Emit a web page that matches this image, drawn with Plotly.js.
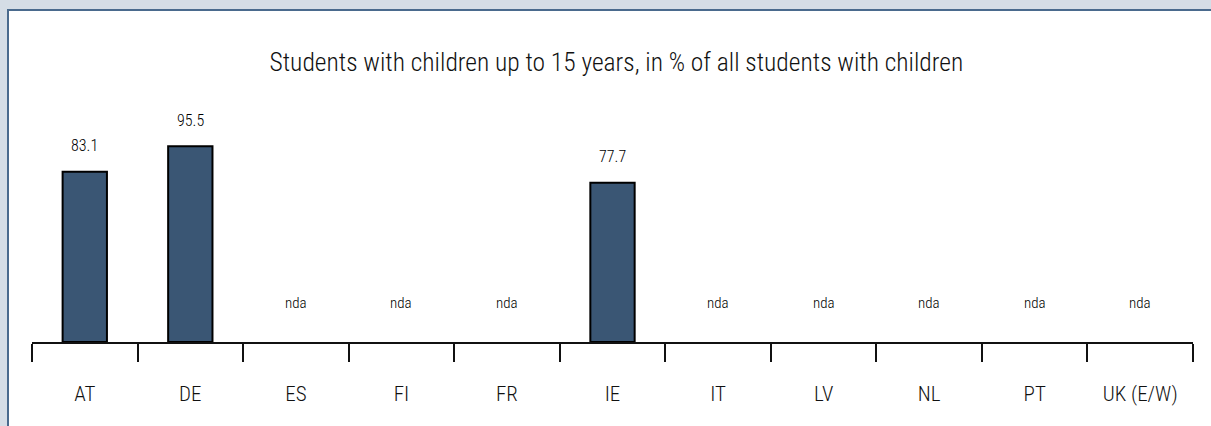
<!DOCTYPE html>
<html>
<head>
<meta charset="utf-8">
<script src="https://cdn.plot.ly/plotly-3.0.1.min.js"></script>
<style>
  html, body { margin: 0; padding: 0; overflow: hidden; background: #ffffff; }
  #topband { position: absolute; left: 0; top: 0; width: 1211px; height: 9px; background: #d5dde6; }
  #leftband { position: absolute; left: 0; top: 0; width: 7px; height: 426px; background: #d5dde6; }
  #panel { position: absolute; left: 7px; top: 9px; width: 1204px; height: 417px; background: #ffffff;
           border-left: 2px solid #4a6a8d; border-top: 2px solid #4a6a8d; box-sizing: border-box; }
  #chart { position: absolute; left: 0; top: 0; width: 1211px; height: 426px; }
  #chart text { font-stretch: condensed; }
</style>
</head>
<body>
<div id="topband"></div>
<div id="leftband"></div>
<div id="panel"></div>
<div id="chart"></div>
<script>
const categories = ["AT", "DE", "ES", "FI", "FR", "IE", "IT", "LV", "NL", "PT", "UK (E/W)"];
const values = [83.1, 95.5, null, null, null, 77.7, null, null, null, null, null];
const missingLabel = "nda";
const titleText = "Students with children up to 15 years, in % of all students with children";

const FONT = "'Roboto Condensed', 'Liberation Sans Narrow', 'DejaVu Sans Condensed', sans-serif";

const annotations = categories.map((c, i) => {
  const v = values[i];
  const has = v !== null && v !== undefined;
  return {
    x: c, y: has ? v : 0, xref: "x", yref: "y",
    text: has ? v.toFixed(1) : missingLabel,
    showarrow: false, yanchor: "middle", xanchor: "center",
    yshift: has ? 26 : 39,
    font: { family: FONT, size: has ? 16 : 15, weight: 300, color: "#000000" }
  };
});

const trace = {
  type: "bar",
  x: categories,
  y: values,
  width: 0.42,
  marker: { color: "#3a5674", line: { color: "#000000", width: 2 } },
  hoverinfo: "x+y"
};

const layout = {
  width: 1211, height: 426,
  paper_bgcolor: "rgba(0,0,0,0)", plot_bgcolor: "rgba(0,0,0,0)",
  margin: { l: 32, r: 18, t: 137, b: 84 },
  showlegend: false,
  title: { text: titleText, x: 0.509, xanchor: "center", y: 1 - 62 / 426, yanchor: "middle", yref: "container",
           font: { family: FONT, size: 25.5, weight: 300, color: "#111111" } },
  xaxis: {
    type: "category", range: [-0.5, 10.5], fixedrange: true,
    showline: true, linecolor: "#111111", linewidth: 2,
    ticks: "outside", tickson: "boundaries", ticklen: 18, tickwidth: 2, tickcolor: "#111111",
    ticklabelstandoff: 32,
    tickfont: { family: FONT, size: 21, weight: 300, color: "#111111" },
    showgrid: false, zeroline: false
  },
  yaxis: { range: [0, 100], visible: false, showgrid: false, zeroline: false, fixedrange: true },
  annotations: annotations
};

Plotly.newPlot("chart", [trace], layout, { displayModeBar: false, staticPlot: true });
</script>
</body>
</html>
